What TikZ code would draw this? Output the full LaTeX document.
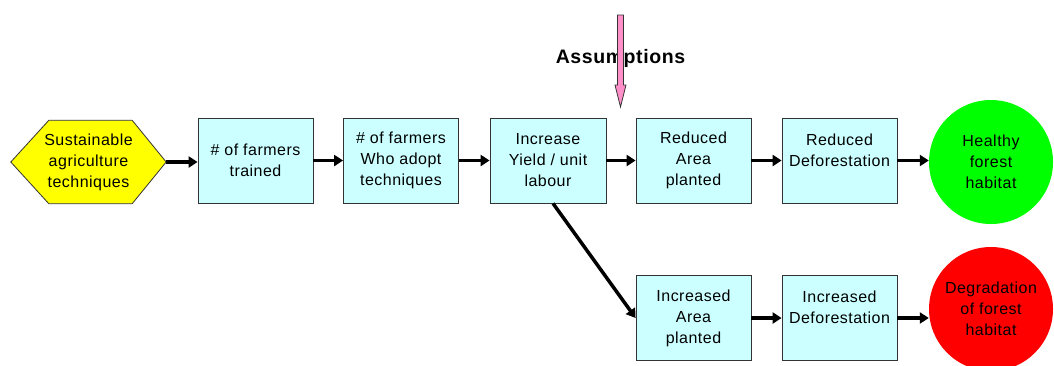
\documentclass[tikz,border=0pt]{standalone}
\usepackage{fontspec}
\setmainfont{Liberation Sans}[LetterSpace=3]
\usetikzlibrary{arrows.meta,calc,backgrounds}
\definecolor{boxfill}{HTML}{CCFFFF}
\definecolor{pinkfill}{HTML}{FF8FC8}
\definecolor{edgegray}{HTML}{333333}
\definecolor{hexyellow}{HTML}{FFFF00}
\definecolor{leafgreen}{HTML}{00FF00}
\definecolor{alarmred}{HTML}{FF0000}
\begin{document}
\begin{tikzpicture}[x=1pt,y=-1pt,
  font=\fontsize{16}{21}\selectfont,
  stepbox/.style={draw=edgegray, line width=0.8pt, fill=boxfill,
    minimum width=115pt, minimum height=85pt, align=center, inner sep=0pt},
  hextext/.style={minimum width=155pt, minimum height=83pt, align=center, inner sep=0pt},
  outcome/.style={circle, minimum size=124pt, inner sep=0pt, align=center},
  conn/.style={line width=3.5pt, -{Triangle[length=9pt,width=11pt]}},
  pinkarrow/.style={draw=edgegray, line width=0.8pt, fill=pinkfill}
]
\useasboundingbox (0,0) rectangle (1054,365);
\clip (0,0) rectangle (1054,365);

% start hexagon
\node[hextext] (hex) at (88.5,162) {Sustainable\\agriculture\\techniques};
\begin{scope}[on background layer]
\draw[draw=edgegray, line width=0.8pt, fill=hexyellow]
  (hex.west) -- ($(hex.north west)+(38,0)$) -- ($(hex.north east)+(-34,0)$)
  -- (hex.east) -- ($(hex.south east)+(-34,0)$) -- ($(hex.south west)+(38,0)$) -- cycle;
\end{scope}

% boxes
\node[stepbox] (b1) at (255.5,160.5) {\# of farmers\\trained};
\node[stepbox] (b2) at (401,160.5) {\# of farmers\\Who adopt\\techniques};
\node[stepbox, minimum width=116pt] (b3) at (548,160.5) {Increase\\Yield / unit\\labour};
\node[stepbox] (b4) at (693.5,160.5) {Reduced\\Area\\planted};
\node[stepbox] (b5) at (839.5,160.5) {Reduced\\Deforestation\\\mbox{}};
\node[stepbox] (b6) at (693.5,318) {Increased\\Area\\planted};
\node[stepbox] (b7) at (839.5,318) {Increased\\Deforestation\\\mbox{}};

% outcomes
\node[outcome, fill=leafgreen] (healthy) at (991,162) {Healthy\\forest\\habitat};
\node[outcome, fill=alarmred] (degrade) at (991,309) {Degradation\\of forest\\habitat};

% connectors
\draw[conn] (hex.east) -- (hex.east -| b1.west);
\draw[conn] (b1) -- (b2);
\draw[conn] (b2) -- (b3);
\draw[conn] (b3) -- (b4);
\draw[conn] (b4) -- (b5);
\draw[conn] (b5.east) -- (b5.east -| healthy.west);
\draw[conn] ($(b3.south)+(5,0)$) -- (b6.west);
\draw[conn] (b6) -- (b7);
\draw[conn] (b7.east) -- (b7.east -| degrade.west);

% assumptions
\node[font=\bfseries\fontsize{19.5}{24}\selectfont] (assume) at (620.5,58) {Assumptions};
\coordinate (pinktop) at (620.5,15);
\coordinate (pinktip) at (620.5,107);
\draw[pinkarrow] ($(pinktop)+(-3,0)$) -- ($(pinktop)+(3,0)$) -- ($(pinktip)+(3,-22)$)
  -- ($(pinktip)+(5.5,-22)$) -- (pinktip) -- ($(pinktip)+(-5.5,-22)$)
  -- ($(pinktip)+(-3,-22)$) -- cycle;
\end{tikzpicture}
\end{document}
